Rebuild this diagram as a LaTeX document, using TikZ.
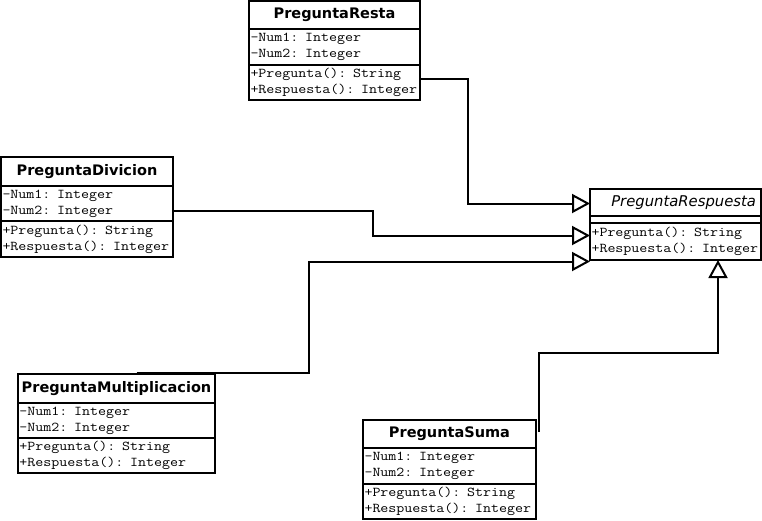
\documentclass[tikz,border=0pt]{standalone}
\usepackage{fontspec}
\usetikzlibrary{arrows.meta}
\newfontfamily\ttlfont{DejaVu Sans}
\newfontfamily\codefont{Latin Modern Mono}[FakeStretch=1.15]
\newcommand\cl[1]{\mbox{#1}}
\begin{document}
\begin{tikzpicture}[x=1pt,y=-1pt,
  box/.style={draw, line width=2pt, rectangle, anchor=north west, inner sep=0pt, outer sep=0pt},
  ttl/.style={box, font=\ttlfont\bfseries\fontsize{14.5}{16}\selectfont, align=center},
  absttl/.style={box, font=\ttlfont\itshape\fontsize{14.8}{16}\selectfont, align=center},
  cmp/.style={box, font=\codefont\fontsize{13.5}{16}\selectfont, align=left, inner xsep=1.5pt, text width=#1},
  inh/.style={line width=2pt, line join=miter, -{Triangle[length=18pt,width=19pt,fill=white]}}]
\path[fill=white] (0,0) rectangle (762,520);
\useasboundingbox (0,0) rectangle (762,520);

% PreguntaResta
\node[ttl, minimum width=171, minimum height=28] (restaT) at (249,1) {PreguntaResta};
\node[cmp=168, minimum height=36] (restaA) at (restaT.south west) {\cl{-Num1: Integer}\\\cl{-Num2: Integer}};
\node[cmp=168, minimum height=35] (restaM) at (restaA.south west) {\cl{+Pregunta(): String}\\\cl{+Respuesta(): Integer}};

% PreguntaDivicion
\node[ttl, minimum width=172, minimum height=29] (divT) at (1,157) {PreguntaDivicion};
\node[cmp=169, minimum height=35] (divA) at (divT.south west) {\cl{-Num1: Integer}\\\cl{-Num2: Integer}};
\node[cmp=169, minimum height=36] (divM) at (divA.south west) {\cl{+Pregunta(): String}\\\cl{+Respuesta(): Integer}};

% PreguntaRespuesta
\node[absttl, minimum width=171, minimum height=27, text width=161, inner xsep=5pt] (respT) at (590,189) {\hfill PreguntaRespuesta\hspace*{3pt}};
\node[cmp=168, minimum height=7] (respA) at (respT.south west) {};
\node[cmp=168, minimum height=37] (respM) at (respA.south west) {\cl{+Pregunta(): String}\\\cl{+Respuesta(): Integer}};

% PreguntaMultiplicacion
\node[ttl, minimum width=197, minimum height=29] (multT) at (18,374) {PreguntaMultiplicacion};
\node[cmp=194, minimum height=35] (multA) at (multT.south west) {\cl{-Num1: Integer}\\\cl{-Num2: Integer}};
\node[cmp=194, minimum height=35] (multM) at (multA.south west) {\cl{+Pregunta(): String}\\\cl{+Respuesta(): Integer}};

% PreguntaSuma
\node[ttl, minimum width=173, minimum height=28] (sumaT) at (363,420) {PreguntaSuma};
\node[cmp=170, minimum height=36] (sumaA) at (sumaT.south west) {\cl{-Num1: Integer}\\\cl{-Num2: Integer}};
\node[cmp=170, minimum height=35] (sumaM) at (sumaA.south west) {\cl{+Pregunta(): String}\\\cl{+Respuesta(): Integer}};

% Connectors
\draw[inh] ([yshift=3.5pt]restaM.east) -- ++(48,0) |- ([yshift=-1pt]respT.west);
\draw[inh] ([yshift=-7.5pt]divA.east) -- ++(200,0) |- ([yshift=6pt]respM.west);
\draw[inh] ([xshift=20pt,yshift=1pt]multT.north) -- ++(172,0) |- ([yshift=-1.5pt]respM.south west);
\draw[inh] ([xshift=3pt,yshift=-12pt]sumaT.north east) -- ++(0,-79) -| ([xshift=42.5pt]respM.south);
\end{tikzpicture}
\end{document}
